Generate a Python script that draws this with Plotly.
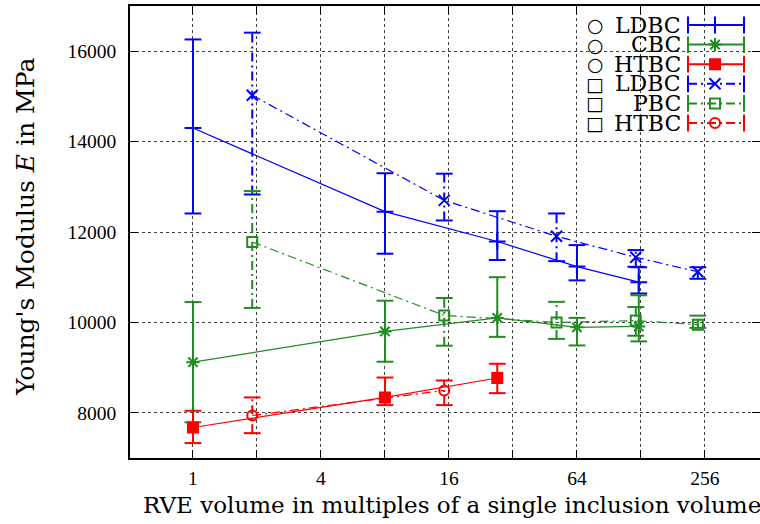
import math
import plotly.graph_objects as go

# ---------------- data ----------------
x_circle = [1, 8, 27, 64, 125]
x_square = [1.9, 15.2, 51.3, 121, 237]

ldbc_c = [14300, 12450, 11790, 11235, 10890]
ldbc_c_hi = [16260, 13300, 12460, 11710, 11220]
ldbc_c_lo = [12410, 11520, 11380, 10930, 10640]

cbc_c = [9120, 9800, 10100, 9890, 9910]
cbc_c_hi = [10450, 10480, 11000, 10100, 10600]
cbc_c_lo = [7790, 9130, 9680, 9490, 9580]

htbc_c_x = [1, 8, 27]
htbc_c = [7675, 8340, 8770]
htbc_c_hi = [8045, 8780, 9085]
htbc_c_lo = [7330, 8170, 8435]

ldbc_s = [15025, 12700, 11905, 11440, 11120]
ldbc_s_hi = [16410, 13290, 12410, 11600, 11220]
ldbc_s_lo = [12830, 12255, 11355, 11230, 10965]

pbc_s = [11780, 10155, 10000, 10040, 9950]
pbc_s_hi = [12905, 10540, 10455, 10340, 10150]
pbc_s_lo = [10320, 9485, 9635, 9705, 9880]

htbc_s_x = [1.9, 15.2]
htbc_s = [7940, 8495]
htbc_s_hi = [8340, 8715]
htbc_s_lo = [7550, 8170]

legend_shapes = ["○", "○", "○", "□", "□", "□"]
legend_names = ["LDBC", "CBC", "HTBC", "LDBC", "PBC", "HTBC"]

x_tickvals = [1, 2, 4, 8, 16, 32, 64, 128, 256]
x_ticktext = ["1", "", "4", "", "16", "", "64", "", "256"]
y_tickvals = [8000, 10000, 12000, 14000, 16000]
y_ticktext = ["8000", "10000", "12000", "14000", "16000"]

BLUE = "#0000ff"
GREEN = "#228b22"
RED = "#ff0000"
NUMFONT = "Liberation Serif"
TXTFONT = "DejaVu Serif"
DASHDOT = "9px,4px,2px,4px"

series = [
    dict(x=x_circle, y=ldbc_c, hi=ldbc_c_hi, lo=ldbc_c_lo, color=BLUE, dash="solid",
         symbol="cross-thin-open", size=12),
    dict(x=x_circle, y=cbc_c, hi=cbc_c_hi, lo=cbc_c_lo, color=GREEN, dash="solid",
         symbol="asterisk-open", size=11),
    dict(x=htbc_c_x, y=htbc_c, hi=htbc_c_hi, lo=htbc_c_lo, color=RED, dash="solid",
         symbol="square", size=10),
    dict(x=x_square, y=ldbc_s, hi=ldbc_s_hi, lo=ldbc_s_lo, color=BLUE, dash=DASHDOT,
         symbol="x-thin-open", size=11),
    dict(x=x_square, y=pbc_s, hi=pbc_s_hi, lo=pbc_s_lo, color=GREEN, dash=DASHDOT,
         symbol="square-open", size=10),
    dict(x=htbc_s_x, y=htbc_s, hi=htbc_s_hi, lo=htbc_s_lo, color=RED, dash=DASHDOT,
         symbol="circle-open", size=10),
]

fig = go.Figure()

for s in series:
    ex, ey = [], []
    for xi, lo, hi in zip(s["x"], s["lo"], s["hi"]):
        ex += [xi, xi, None]
        ey += [lo, hi, None]
    fig.add_trace(go.Scatter(x=ex, y=ey, mode="lines", showlegend=False, hoverinfo="skip",
                             line=dict(color=s["color"], width=2, dash=s["dash"])))
    fig.add_trace(go.Scatter(x=s["x"] + s["x"], y=s["lo"] + s["hi"], mode="markers",
                             showlegend=False, hoverinfo="skip",
                             marker=dict(symbol="line-ew-open", size=12, color=s["color"],
                                         line=dict(color=s["color"], width=2))))
    fig.add_trace(go.Scatter(x=s["x"], y=s["y"], mode="lines+markers", showlegend=False,
                             line=dict(color=s["color"], width=1.2, dash=s["dash"]),
                             marker=dict(symbol=s["symbol"], size=s["size"],
                                         color=s["color"],
                                         line=dict(color=s["color"], width=2))))

# ---------------- legend (aux axes in plot-fraction coords) ----------------
L, R, T, B = 130, 760, 6, 458
W, H = R - L, B - T
def px(x):
    return (x - L) / W
def py(y):
    return (B - y) / H

row_y0, row_dy = 25, 19.6
sx0, sx1, smid, tx, sym_x = 688, 744, 715, 683, 595
for i, s in enumerate(series):
    yy = py(row_y0 + i * row_dy)
    fig.add_trace(go.Scatter(x=[px(sx0), px(sx1)], y=[yy, yy], mode="lines",
                             xaxis="x2", yaxis="y2", showlegend=False, hoverinfo="skip",
                             line=dict(color=s["color"], width=2, dash=s["dash"])))
    fig.add_trace(go.Scatter(x=[px(sx0), px(sx1)], y=[yy, yy], mode="markers",
                             xaxis="x2", yaxis="y2", showlegend=False, hoverinfo="skip",
                             marker=dict(symbol="line-ns-open", size=12, color=s["color"],
                                         line=dict(color=s["color"], width=2))))
    fig.add_trace(go.Scatter(x=[px(smid)], y=[yy], mode="markers",
                             xaxis="x2", yaxis="y2", showlegend=False, hoverinfo="skip",
                             marker=dict(symbol=s["symbol"], size=s["size"], color=s["color"],
                                         line=dict(color=s["color"], width=2))))
    fig.add_annotation(x=px(tx), y=yy, xref="paper", yref="paper", text=legend_names[i],
                       showarrow=False, xanchor="right", yanchor="middle",
                       font=dict(family=TXTFONT, size=22, color="black"))
    fig.add_annotation(x=px(sym_x), y=yy, xref="paper", yref="paper", text=legend_shapes[i],
                       showarrow=False, xanchor="center", yanchor="middle",
                       font=dict(family="DejaVu Sans", size=19, color="black"))

# axis titles
fig.add_annotation(x=px(25), y=py(227), xref="paper", yref="paper",
                   text="Young's Modulus <i>E</i> in MPa", textangle=-90,
                   showarrow=False, xanchor="center", yanchor="middle",
                   font=dict(family=TXTFONT, size=25, color="black"))
fig.add_annotation(x=px(452), y=py(505), xref="paper", yref="paper",
                   text="RVE volume in multiples of a single inclusion volume",
                   showarrow=False, xanchor="center", yanchor="middle",
                   font=dict(family=TXTFONT, size=23, color="black"))

fig.update_layout(
    width=760, height=524,
    margin=dict(l=L, r=0, t=T, b=524 - B, autoexpand=False),
    plot_bgcolor="white", paper_bgcolor="white",
    showlegend=False,
    font=dict(family=NUMFONT, color="black"),
    xaxis=dict(
        type="log", automargin=False,
        range=[math.log10(2 ** -0.984), math.log10(2 ** 8.86)],
        tickvals=x_tickvals, ticktext=x_ticktext,
        ticks="inside", ticklen=8, tickwidth=1.2, tickcolor="black",
        showline=True, linecolor="black", linewidth=1.8, mirror="ticks",
        showgrid=True, gridcolor="rgba(0,0,0,0.75)", griddash="dot", gridwidth=1,
        zeroline=False,
        tickfont=dict(family=NUMFONT, size=19.5, color="black"),
        ticklabelstandoff=2,
    ),
    yaxis=dict(
        range=[7000, 17000], automargin=False,
        tickvals=y_tickvals, ticktext=y_ticktext,
        ticks="inside", ticklen=8, tickwidth=1.2, tickcolor="black",
        showline=True, linecolor="black", linewidth=1.8, mirror="ticks",
        showgrid=True, gridcolor="rgba(0,0,0,0.75)", griddash="dot", gridwidth=1,
        zeroline=False,
        tickfont=dict(family=NUMFONT, size=19.5, color="black"),
        ticklabelstandoff=8,
    ),
    xaxis2=dict(overlaying="x", range=[0, 1], visible=False, fixedrange=True),
    yaxis2=dict(overlaying="y", range=[0, 1], visible=False, fixedrange=True),
)

fig.write_html("out.html", config={"displayModeBar": False},
               post_script="document.body.style.margin='0';document.body.style.overflow='hidden';")
